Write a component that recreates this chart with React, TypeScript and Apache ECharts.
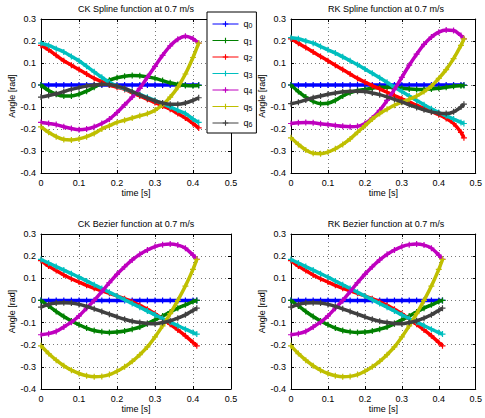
import React, { useEffect, useRef } from "react";
import * as echarts from "echarts";

const seriesNames = ["q0", "q1", "q2", "q3", "q4", "q5", "q6"];
const seriesColors = ["#0000ff", "#008000", "#ff0000", "#00bfbf", "#bf00bf", "#bfbf00", "#404040"];
const plotTitles = [
  "CK Spline function at 0.7 m/s",
  "RK Spline function at 0.7 m/s",
  "CK Bezier function at 0.7 m/s",
  "RK Bezier function at 0.7 m/s",
];
const xTicks = [0, 0.1, 0.2, 0.3, 0.4, 0.5];
const yTicks = [-0.4, -0.3, -0.2, -0.1, 0, 0.1, 0.2, 0.3];

// ---- CK Spline ----
const tCKSpline = [0, 0.02, 0.04, 0.06, 0.08, 0.1, 0.12, 0.14, 0.16, 0.18, 0.2, 0.22, 0.24, 0.26, 0.28, 0.3, 0.32, 0.34, 0.36, 0.38, 0.4, 0.415];
const ckSplineQ0 = [0, 0, 0, 0, 0, 0, 0, 0, 0, 0, 0, 0, 0, 0, 0, 0, 0, 0, 0, 0, 0, 0];
const ckSplineQ1 = [0, -0.025, -0.042, -0.05, -0.05, -0.042, -0.028, -0.01, 0.008, 0.022, 0.033, 0.04, 0.043, 0.042, 0.037, 0.03, 0.02, 0.01, 0.002, -0.002, -0.003, -0.002];
const ckSplineQ2 = [0.18, 0.16, 0.135, 0.11, 0.09, 0.07, 0.05, 0.03, 0.015, 0.0, -0.01, -0.02, -0.035, -0.05, -0.065, -0.08, -0.095, -0.11, -0.13, -0.15, -0.175, -0.195];
const ckSplineQ3 = [0.19, 0.18, 0.165, 0.15, 0.13, 0.11, 0.085, 0.06, 0.035, 0.012, -0.005, -0.018, -0.03, -0.043, -0.056, -0.07, -0.085, -0.1, -0.115, -0.13, -0.155, -0.17];
const ckSplineQ4 = [-0.17, -0.175, -0.18, -0.19, -0.198, -0.203, -0.2, -0.19, -0.175, -0.155, -0.125, -0.09, -0.055, -0.015, 0.035, 0.085, 0.135, 0.178, 0.208, 0.222, 0.21, 0.19];
const ckSplineQ5 = [-0.19, -0.215, -0.235, -0.248, -0.25, -0.245, -0.235, -0.22, -0.2, -0.185, -0.17, -0.16, -0.15, -0.14, -0.13, -0.115, -0.09, -0.055, -0.01, 0.05, 0.125, 0.19];
const ckSplineQ6 = [-0.055, -0.048, -0.04, -0.03, -0.02, -0.012, -0.005, 0.0, 0.003, 0.002, -0.005, -0.015, -0.03, -0.045, -0.06, -0.072, -0.082, -0.088, -0.088, -0.082, -0.07, -0.058];

// ---- RK Spline ----
const tRKSpline = [0, 0.02, 0.04, 0.06, 0.08, 0.1, 0.12, 0.14, 0.16, 0.18, 0.2, 0.22, 0.24, 0.26, 0.28, 0.3, 0.32, 0.34, 0.36, 0.38, 0.4, 0.42, 0.44, 0.46, 0.468];
const rkSplineQ0 = [0, 0, 0, 0, 0, 0, 0, 0, 0, 0, 0, 0, 0, 0, 0, 0, 0, 0, 0, 0, 0, 0, 0, 0, 0];
const rkSplineQ1 = [0, -0.03, -0.055, -0.075, -0.085, -0.083, -0.07, -0.05, -0.035, -0.025, -0.02, -0.015, -0.01, -0.01, -0.012, -0.015, -0.018, -0.02, -0.02, -0.018, -0.015, -0.01, -0.006, -0.003, -0.002];
const rkSplineQ2 = [0.21, 0.19, 0.17, 0.15, 0.13, 0.11, 0.09, 0.07, 0.05, 0.03, 0.013, -0.003, -0.018, -0.033, -0.048, -0.063, -0.078, -0.092, -0.106, -0.12, -0.135, -0.152, -0.175, -0.215, -0.24];
const rkSplineQ3 = [0.215, 0.21, 0.2, 0.19, 0.175, 0.16, 0.145, 0.128, 0.11, 0.092, 0.073, 0.053, 0.033, 0.012, -0.01, -0.03, -0.05, -0.07, -0.09, -0.108, -0.125, -0.14, -0.155, -0.17, -0.175];
const rkSplineQ4 = [-0.175, -0.172, -0.17, -0.172, -0.176, -0.18, -0.184, -0.188, -0.19, -0.188, -0.175, -0.15, -0.115, -0.07, -0.02, 0.035, 0.09, 0.14, 0.185, 0.218, 0.24, 0.25, 0.248, 0.225, 0.21];
const rkSplineQ5 = [-0.24, -0.27, -0.295, -0.31, -0.312, -0.305, -0.29, -0.27, -0.245, -0.215, -0.185, -0.155, -0.13, -0.11, -0.092, -0.078, -0.065, -0.05, -0.03, -0.005, 0.03, 0.07, 0.12, 0.18, 0.21];
const rkSplineQ6 = [-0.085, -0.078, -0.068, -0.058, -0.05, -0.042, -0.036, -0.031, -0.028, -0.028, -0.03, -0.036, -0.044, -0.054, -0.065, -0.077, -0.09, -0.102, -0.113, -0.122, -0.128, -0.13, -0.122, -0.1, -0.087];

// ---- CK Bezier ----
const tCKBezier = [0, 0.02, 0.04, 0.06, 0.08, 0.1, 0.12, 0.14, 0.16, 0.18, 0.2, 0.22, 0.24, 0.26, 0.28, 0.3, 0.32, 0.34, 0.36, 0.38, 0.4, 0.41];
const ckBezierQ0 = [0, 0, 0, 0, 0, 0, 0, 0, 0, 0, 0, 0, 0, 0, 0, 0, 0, 0, 0, 0, 0, 0];
const ckBezierQ1 = [0, -0.025, -0.05, -0.073, -0.093, -0.11, -0.125, -0.136, -0.142, -0.145, -0.143, -0.138, -0.13, -0.12, -0.105, -0.088, -0.07, -0.052, -0.035, -0.02, -0.005, 0];
const ckBezierQ2 = [0.18, 0.155, 0.135, 0.115, 0.098, 0.083, 0.068, 0.055, 0.043, 0.032, 0.02, 0.008, -0.006, -0.022, -0.04, -0.06, -0.083, -0.108, -0.133, -0.16, -0.19, -0.205];
const ckBezierQ3 = [0.185, 0.169, 0.153, 0.137, 0.121, 0.105, 0.088, 0.071, 0.054, 0.037, 0.02, 0.003, -0.014, -0.031, -0.048, -0.065, -0.082, -0.098, -0.114, -0.13, -0.145, -0.152];
const ckBezierQ4 = [-0.155, -0.15, -0.14, -0.12, -0.098, -0.07, -0.035, 0.0, 0.04, 0.08, 0.118, 0.152, 0.183, 0.208, 0.228, 0.243, 0.252, 0.255, 0.25, 0.236, 0.205, 0.186];
const ckBezierQ5 = [-0.205, -0.24, -0.27, -0.295, -0.315, -0.33, -0.34, -0.345, -0.343, -0.335, -0.32, -0.3, -0.275, -0.245, -0.21, -0.165, -0.115, -0.06, 0.0, 0.065, 0.14, 0.185];
const ckBezierQ6 = [-0.03, -0.018, -0.012, -0.01, -0.012, -0.018, -0.027, -0.038, -0.05, -0.062, -0.074, -0.085, -0.094, -0.1, -0.104, -0.105, -0.1, -0.092, -0.08, -0.065, -0.045, -0.035];

// ---- RK Bezier ----
const tRKBezier = [0, 0.02, 0.04, 0.06, 0.08, 0.1, 0.12, 0.14, 0.16, 0.18, 0.2, 0.22, 0.24, 0.26, 0.28, 0.3, 0.32, 0.34, 0.36, 0.38, 0.4, 0.41];
const rkBezierQ0 = [0, 0, 0, 0, 0, 0, 0, 0, 0, 0, 0, 0, 0, 0, 0, 0, 0, 0, 0, 0, 0, 0];
const rkBezierQ1 = [0, -0.025, -0.05, -0.073, -0.093, -0.11, -0.125, -0.136, -0.142, -0.145, -0.143, -0.138, -0.13, -0.12, -0.105, -0.088, -0.07, -0.052, -0.035, -0.02, -0.005, 0];
const rkBezierQ2 = [0.18, 0.155, 0.135, 0.115, 0.098, 0.083, 0.068, 0.055, 0.043, 0.032, 0.02, 0.008, -0.006, -0.022, -0.04, -0.06, -0.083, -0.108, -0.133, -0.16, -0.19, -0.205];
const rkBezierQ3 = [0.185, 0.169, 0.153, 0.137, 0.121, 0.105, 0.088, 0.071, 0.054, 0.037, 0.02, 0.003, -0.014, -0.031, -0.048, -0.065, -0.082, -0.098, -0.114, -0.13, -0.145, -0.152];
const rkBezierQ4 = [-0.155, -0.15, -0.14, -0.12, -0.098, -0.07, -0.035, 0.0, 0.04, 0.08, 0.118, 0.152, 0.183, 0.208, 0.228, 0.243, 0.252, 0.255, 0.25, 0.236, 0.205, 0.186];
const rkBezierQ5 = [-0.205, -0.24, -0.27, -0.295, -0.315, -0.33, -0.34, -0.345, -0.343, -0.335, -0.32, -0.3, -0.275, -0.245, -0.21, -0.165, -0.115, -0.06, 0.0, 0.065, 0.14, 0.185];
const rkBezierQ6 = [-0.03, -0.018, -0.012, -0.01, -0.012, -0.018, -0.027, -0.038, -0.05, -0.062, -0.074, -0.085, -0.094, -0.1, -0.104, -0.105, -0.1, -0.092, -0.08, -0.065, -0.045, -0.035];

const plotTimes = [tCKSpline, tRKSpline, tCKBezier, tRKBezier];
const plotValues = [
  [ckSplineQ0, ckSplineQ1, ckSplineQ2, ckSplineQ3, ckSplineQ4, ckSplineQ5, ckSplineQ6],
  [rkSplineQ0, rkSplineQ1, rkSplineQ2, rkSplineQ3, rkSplineQ4, rkSplineQ5, rkSplineQ6],
  [ckBezierQ0, ckBezierQ1, ckBezierQ2, ckBezierQ3, ckBezierQ4, ckBezierQ5, ckBezierQ6],
  [rkBezierQ0, rkBezierQ1, rkBezierQ2, rkBezierQ3, rkBezierQ4, rkBezierQ5, rkBezierQ6],
];

const FONT = "'Liberation Sans', Arial, Helvetica, sans-serif";
const PLUS = "path://M0,4H10V6H0Z M4,0H6V10H4Z";

const gridRects = [
  { left: 41, top: 19, width: 190, height: 154 },
  { left: 291, top: 19, width: 190, height: 154 },
  { left: 41, top: 234, width: 190, height: 155 },
  { left: 291, top: 234, width: 190, height: 155 },
];

function fmt(v: number) {
  if (Math.abs(v) < 1e-9) return "0";
  return (Math.round(v * 10) / 10).toFixed(1);
}

export default function App() {
  const ref = useRef<HTMLDivElement>(null);
  useEffect(() => {
    if (!ref.current) return;
    const chart = echarts.init(ref.current, undefined, { renderer: "svg" });
    const grids: any[] = [];
    const xAxes: any[] = [];
    const yAxes: any[] = [];
    const series: any[] = [];
    const titles: any[] = [];
    const boxAxis = {
      axisLine: { show: true, onZero: false, lineStyle: { color: "#000", width: 1 } },
      axisTick: { show: true, inside: true, length: 3, lineStyle: { color: "#000" } },
    };
    const gridLine = { show: true, lineStyle: { color: "#777", width: 1, type: [1, 3] } };
    const labelStyle = { fontFamily: FONT, fontSize: 9, color: "#000", margin: 5, formatter: fmt };
    const nameStyle = { fontFamily: FONT, fontSize: 9, color: "#000" };
    gridRects.forEach((g, p) => {
      grids.push({ ...g, containLabel: false });
      titles.push({
        text: plotTitles[p],
        left: g.left + g.width / 2,
        top: g.top - 15,
        padding: 0,
        textAlign: "center",
        textStyle: { fontFamily: FONT, fontSize: 9, fontWeight: "normal", color: "#000" },
      });
      const xMin = xTicks[0];
      const xMax = xTicks[xTicks.length - 1];
      const yMin = yTicks[0];
      const yMax = yTicks[yTicks.length - 1];
      xAxes.push({
        type: "value", gridIndex: p, min: xMin, max: xMax, interval: 0.1, position: "bottom",
        name: "time [s]", nameLocation: "middle", nameGap: 15, nameTextStyle: nameStyle,
        ...boxAxis, axisLabel: labelStyle, splitLine: gridLine,
      });
      xAxes.push({
        type: "value", gridIndex: p, min: xMin, max: xMax, interval: 0.1, position: "top",
        ...boxAxis, axisLabel: { show: false }, splitLine: { show: false },
      });
      yAxes.push({
        type: "value", gridIndex: p, min: yMin, max: yMax, interval: 0.1, position: "left",
        name: "Angle [rad]", nameLocation: "middle", nameGap: 23, nameTextStyle: nameStyle,
        ...boxAxis, axisLabel: labelStyle, splitLine: gridLine,
      });
      yAxes.push({
        type: "value", gridIndex: p, min: yMin, max: yMax, interval: 0.1, position: "right",
        ...boxAxis, axisLabel: { show: false }, splitLine: { show: false },
      });
      const times = plotTimes[p];
      plotValues[p].forEach((vals, q) => {
        series.push({
          type: "line",
          name: seriesNames[q],
          xAxisIndex: p * 2,
          yAxisIndex: p * 2,
          data: times.map((t, i) => [t, vals[i]]),
          smooth: 0.3,
          symbol: PLUS,
          symbolSize: 6,
          showSymbol: true,
          lineStyle: { width: 3.5, color: seriesColors[q] },
          itemStyle: { color: seriesColors[q] },
          emphasis: { disabled: true },
          z: 2 + q,
        });
      });
    });
    chart.setOption({
      animation: false,
      backgroundColor: "#fff",
      title: titles,
      grid: grids,
      xAxis: xAxes,
      yAxis: yAxes,
      series,
      legend: {
        data: seriesNames,
        orient: "vertical",
        left: 207,
        top: 12,
        padding: [7, 4, 5, 5],
        itemWidth: 26,
        itemHeight: 7,
        itemGap: 6.5,
        backgroundColor: "#fff",
        borderColor: "#000",
        borderWidth: 1,
        borderRadius: 0,
        selectedMode: false,
        lineStyle: { width: 1 },
        formatter: (name: string) => "q{s|" + name.slice(1) + "}",
        textStyle: {
          fontFamily: FONT,
          fontSize: 9,
          color: "#000",
          lineHeight: 10,
          rich: { s: { fontSize: 7, lineHeight: 6, verticalAlign: "bottom", fontFamily: FONT, color: "#000" } },
        },
      },
    });
    return () => chart.dispose();
  }, []);
  return (
    <div
      ref={ref}
      style={{ position: "absolute", left: 0, top: 0, width: 485, height: 418 }}
    />
  );
}
